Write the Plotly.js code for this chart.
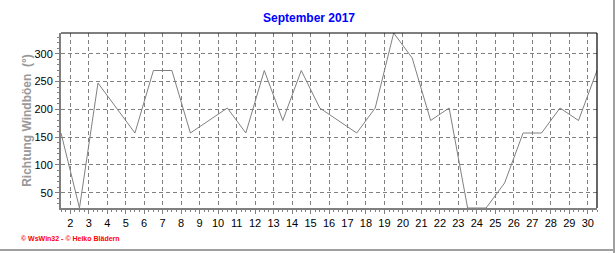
<!DOCTYPE html>
<html>
<head>
<meta charset="utf-8">
<script src="https://cdn.plot.ly/plotly-3.0.1.min.js"></script>
<style>html,body{margin:0;padding:0;background:#fff;}#chart{width:616px;height:253px;}</style>
</head>
<body>
<div id="chart"></div>
<script>
var days = [1.5,2.5,3.5,4.5,5.5,6.5,7.5,8.5,9.5,10.5,11.5,12.5,13.5,14.5,15.5,16.5,17.5,18.5,19.5,20.5,21.5,22.5,23.5,24.5,25.5,26.5,27.5,28.5,29.5,30.5];
var direction = [157.5,22.5,247.5,202.5,157.5,270,270,157.5,180,202.5,157.5,270,180,270,202.5,180,157.5,202.5,337.5,292.5,180,202.5,22.5,22.5,67.5,157.5,157.5,202.5,180,270];
var xTicks = [2,3,4,5,6,7,8,9,10,11,12,13,14,15,16,17,18,19,20,21,22,23,24,25,26,27,28,29,30];
var yTicks = [50,100,150,200,250,300];
var titleText = "September 2017";
var yTitle = "Richtung Windböen  (°)";
var footer = "© WsWin32 - © Heiko Blädern";

var trace = {x: days, y: direction, type: 'scatter', mode: 'lines',
  line: {color: '#808080', width: 1}, hoverinfo: 'skip'};

var layout = {
  width: 616, height: 253,
  margin: {l: 61, r: 19, t: 33, b: 45},
  paper_bgcolor: '#ffffff', plot_bgcolor: '#ffffff',
  showlegend: false,
  font: {family: 'Liberation Sans, Arial, sans-serif', size: 11, color: '#000'},
  title: {text: '<b>' + titleText + '</b>', font: {family: 'Liberation Sans, Arial, sans-serif', size: 12, color: '#0000ff'},
          x: 309/616, xanchor: 'center', y: 1 - 18/253, yanchor: 'middle', xref: 'container', yref: 'container'},
  xaxis: {range: [1.5, 30.5], tickmode: 'array', tickvals: xTicks, ticktext: xTicks.map(String),
    showgrid: true, gridcolor: '#808080', griddash: '4px,3px', gridwidth: 1,
    zeroline: false, showline: true, linecolor: '#808080', linewidth: 2, layer: 'above traces',
    ticks: 'outside', ticklen: 4, tickcolor: '#808080', tickwidth: 1,
    minor: {dtick: 0.25, tick0: 0, ticks: 'outside', ticklen: 2, tickcolor: '#808080', showgrid: false},
    tickfont: {size: 11}, fixedrange: true},
  yaxis: {range: [22.5, 337.5], tickmode: 'array', tickvals: yTicks, ticktext: yTicks.map(String),
    showgrid: true, gridcolor: '#808080', griddash: '4px,3px', gridwidth: 1,
    zeroline: false, showline: true, linecolor: '#808080', linewidth: 2, layer: 'above traces',
    ticks: 'outside', ticklen: 4, tickcolor: '#808080', tickwidth: 1,
    minor: {dtick: 10, tick0: 0, ticks: 'outside', ticklen: 2, tickcolor: '#808080', showgrid: false},
    title: {text: '<b>' + yTitle + '</b>', font: {size: 12, color: '#999999'}, standoff: 0},
    tickfont: {size: 11}, fixedrange: true},
  shapes: [
    {type: 'line', xref: 'paper', yref: 'paper', x0: 0, x1: 1, y0: 1, y1: 1, line: {color: '#000', width: 1.2}},
    {type: 'line', xref: 'paper', yref: 'paper', x0: 1, x1: 1, y0: 0, y1: 1, line: {color: '#000', width: 1.2}},
    {type: 'line', xref: 'paper', yref: 'paper', x0: (614 - 61) / 536, x1: (614 - 61) / 536, y0: -45/175, y1: (33+175)/175, line: {color: '#a0a0a0', width: 2}},
    {type: 'line', xref: 'paper', yref: 'paper', x0: -61/536, x1: (614 - 61) / 536, y0: -(250-208)/175, y1: -(250-208)/175, line: {color: '#a0a0a0', width: 2}}
  ],
  annotations: [
    {text: '<b>' + footer + '</b>', xref: 'paper', yref: 'paper', x: (19 - 61) / 536, y: -(239 - 208) / 175,
     xanchor: 'left', yanchor: 'middle', showarrow: false, font: {size: 7, color: '#ff0000', family: 'Liberation Sans, sans-serif'}}
  ]
};

Plotly.newPlot('chart', [trace], layout, {displayModeBar: false, staticPlot: true});
</script>
</body>
</html>
